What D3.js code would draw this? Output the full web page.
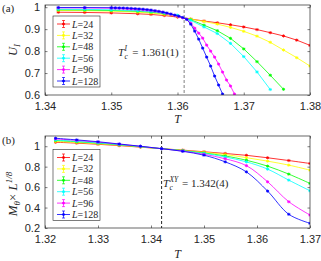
<!DOCTYPE html>
<html>
<head>
<meta charset="utf-8">
<script src="https://cdn.jsdelivr.net/npm/d3@7"></script>
<style>
  body { margin: 0; background: #fff; }
  svg { display: block; font-family: "Liberation Serif", "Times New Roman", serif; }
  .tick text { font-size: 11px; fill: #262626; }
  .tick line { stroke: #262626; stroke-width: 0.6; }
</style>
</head>
<body>
<div id="chart"></div>
<script>
const sizes = ["24", "32", "48", "56", "96", "128"];
const colors = ["#ff0000", "#ffff00", "#00ff00", "#00ffff", "#ff00ff", "#0000ff"];

// panel (a): Binder cumulant U_I
const tSmall = [1.342, 1.346, 1.35, 1.354, 1.356, 1.358, 1.36, 1.362, 1.364, 1.366, 1.368, 1.37, 1.372, 1.374, 1.376, 1.378, 1.38];
const tDense = [1.342, 1.346, 1.35, 1.3506, 1.3512, 1.3518, 1.3524, 1.353, 1.3536, 1.3542, 1.3548, 1.3554, 1.356,
  1.3566, 1.3572, 1.3578, 1.3584, 1.359, 1.3596, 1.3602, 1.3608, 1.3614, 1.362, 1.3626, 1.3632, 1.3638, 1.3644,
  1.365, 1.3656, 1.3662, 1.3668, 1.3674, 1.368, 1.3686];
const u24 = [0.977, 0.976, 0.974, 0.97, 0.967, 0.962, 0.955, 0.946, 0.937, 0.929, 0.92, 0.91, 0.898, 0.884, 0.869, 0.85, 0.826];
const u32 = [0.985, 0.984, 0.982, 0.977, 0.973, 0.967, 0.958, 0.946, 0.935, 0.923, 0.908, 0.89, 0.868, 0.84, 0.805, 0.77, 0.732];
const u48 = [0.988, 0.987, 0.985, 0.981, 0.977, 0.971, 0.961, 0.943, 0.918, 0.893, 0.858, 0.81, 0.752, 0.69, 0.626];
const u56 = [0.991, 0.99, 0.988, 0.984, 0.98, 0.974, 0.963, 0.94, 0.91, 0.88, 0.835, 0.775, 0.705, 0.625];
const u96 = [0.997, 0.9965, 0.9955, 0.995, 0.9945, 0.994, 0.993, 0.992, 0.991, 0.99, 0.9885, 0.987, 0.985,
  0.9825, 0.98, 0.977, 0.9715, 0.967, 0.962, 0.957, 0.952, 0.946, 0.9273, 0.9045, 0.8818, 0.8591, 0.8273,
  0.8, 0.7727, 0.7409, 0.7045, 0.6682, 0.6409, 0.6045];
const u128 = [0.9986, 0.9984, 0.9977, 0.9973, 0.9968, 0.9964, 0.9955, 0.9945, 0.9936, 0.9923, 0.9909, 0.9891, 0.9868,
  0.9841, 0.9809, 0.9773, 0.9735, 0.969, 0.964, 0.959, 0.953, 0.944, 0.9227, 0.8909, 0.8545, 0.8136, 0.7727,
  0.7318, 0.6864, 0.6455, 0.6045];

// panel (b): M_theta * L^(1/8)
const tB = [1.322, 1.326, 1.33, 1.334, 1.338, 1.342, 1.346, 1.35, 1.354, 1.358, 1.362, 1.366, 1.37];
const m24 = [1.039, 1.030, 1.019, 1.006, 0.991, 0.976, 0.962, 0.946, 0.929, 0.911, 0.887, 0.86, 0.831];
const m32 = [1.046, 1.036, 1.024, 1.010, 0.993, 0.976, 0.959, 0.941, 0.919, 0.888, 0.854, 0.815, 0.766];
const m48 = [1.056, 1.044, 1.030, 1.014, 0.996, 0.976, 0.957, 0.934, 0.905, 0.863, 0.805, 0.727, 0.636];
const m56 = [1.061, 1.048, 1.033, 1.016, 0.997, 0.976, 0.955, 0.930, 0.895, 0.847, 0.776, 0.668, 0.564];
const m96 = [1.072, 1.057, 1.040, 1.020, 0.999, 0.976, 0.952, 0.921, 0.877, 0.810, 0.652, 0.457, 0.327];
const m128 = [1.078, 1.062, 1.044, 1.022, 1.000, 0.976, 0.950, 0.912, 0.847, 0.749, 0.561, 0.334, 0.246];

const xTicksA = [1.34, 1.35, 1.36, 1.37, 1.38];
const yTicksA = [0.6, 0.7, 0.8, 0.9, 1];
const xTicksB = [1.32, 1.33, 1.34, 1.35, 1.36, 1.37];
const yTicksB = [0.2, 0.4, 0.6, 0.8, 1];
const tcA = 1.361;
const tcB = 1.342;

const width = 321, height = 261;

const svg = d3.select("#chart").append("svg")
  .attr("width", width)
  .attr("height", height)
  .attr("viewBox", [0, 0, width, height]);

svg.append("rect").attr("width", width).attr("height", height).attr("fill", "#fff");

//build one panel
function panel(cfg) {
  const x = d3.scaleLinear().domain(cfg.xDomain).range([cfg.left, cfg.right]);
  const y = d3.scaleLinear().domain(cfg.yDomain).range([cfg.bottom, cfg.top]);
  const g = svg.append("g");

  const clipId = "clip-" + cfg.id;
  svg.append("clipPath").attr("id", clipId)
    .append("rect")
    .attr("x", cfg.left).attr("y", cfg.top)
    .attr("width", cfg.right - cfg.left).attr("height", cfg.bottom - cfg.top);

  //axes with inward ticks on all four sides
  const fmt = (d) => String(d);
  g.append("g").attr("transform", `translate(0,${cfg.bottom})`)
    .call(d3.axisBottom(x).tickValues(cfg.xTicks).tickFormat(fmt).tickSizeInner(-2.5).tickSizeOuter(0).tickPadding(7));
  g.append("g").attr("transform", `translate(0,${cfg.top})`)
    .call(d3.axisTop(x).tickValues(cfg.xTicks).tickFormat("").tickSizeInner(-2.5).tickSizeOuter(0));
  g.append("g").attr("transform", `translate(${cfg.left},0)`)
    .call(d3.axisLeft(y).tickValues(cfg.yTicks).tickFormat(fmt).tickSizeInner(-2.5).tickSizeOuter(0).tickPadding(5));
  g.append("g").attr("transform", `translate(${cfg.right},0)`)
    .call(d3.axisRight(y).tickValues(cfg.yTicks).tickFormat("").tickSizeInner(-2.5).tickSizeOuter(0));
  g.selectAll(".domain").remove();
  g.selectAll(".tick text").attr("font-family", null);

  //dashed critical temperature line
  g.append("line")
    .attr("x1", x(cfg.tc)).attr("x2", x(cfg.tc))
    .attr("y1", cfg.top).attr("y2", cfg.bottom)
    .attr("stroke", cfg.dashColor).attr("stroke-width", 1)
    .attr("stroke-dasharray", "3,2");

  //curves
  const plot = g.append("g").attr("clip-path", `url(#${clipId})`);
  const line = d3.line()
    .x((d) => x(d[0]))
    .y((d) => y(d[1]))
    .curve(cfg.curve);
  cfg.series.forEach((s, i) => {
    const pts = s.values.map((v, j) => [s.t[j], v]);
    plot.append("path")
      .attr("d", line(pts))
      .attr("fill", "none")
      .attr("stroke", colors[i])
      .attr("stroke-width", 0.8);
    plot.selectAll(null)
      .data(pts)
      .join("path")
      .attr("transform", (d) => `translate(${x(d[0])},${y(d[1])})`)
      .attr("d", star(1.6))
      .attr("fill", "none")
      .attr("stroke", colors[i])
      .attr("stroke-width", 0.8);
  });

  //frame
  g.append("rect")
    .attr("x", cfg.left).attr("y", cfg.top)
    .attr("width", cfg.right - cfg.left).attr("height", cfg.bottom - cfg.top)
    .attr("fill", "none").attr("stroke", "#262626").attr("stroke-width", 0.7);

  //legend
  const lg = g.append("g").attr("transform", `translate(${cfg.legend.x},${cfg.legend.y})`);
  lg.append("rect")
    .attr("width", 47).attr("height", 71)
    .attr("fill", "#fff").attr("stroke", "#262626").attr("stroke-width", 0.6);
  const rows = lg.selectAll("g")
    .data(sizes)
    .join("g")
    .attr("transform", (_d, i) => `translate(0,${8 + i * 11.4})`);
  rows.append("line")
    .attr("x1", 4).attr("x2", 17)
    .attr("stroke", (_d, i) => colors[i]).attr("stroke-width", 0.8);
  rows.append("path")
    .attr("d", "M10.5,-3.5V3.5M9,-3.5H12M9,3.5H12")
    .attr("fill", "none")
    .attr("stroke", (_d, i) => colors[i]).attr("stroke-width", 0.7);
  rows.append("path")
    .attr("transform", "translate(10.5,0)")
    .attr("d", star(1.6))
    .attr("fill", "none")
    .attr("stroke", (_d, i) => colors[i]).attr("stroke-width", 0.8);
  const lt = rows.append("text")
    .attr("x", 19).attr("y", 3.5)
    .attr("font-size", 10)
    .attr("fill", "#262626");
  lt.append("tspan").attr("font-style", "italic").text("L");
  lt.append("tspan").text((d) => "=" + d);

  //T axis label
  g.append("text")
    .attr("x", (cfg.left + cfg.right) / 2)
    .attr("y", cfg.bottom + cfg.tLabelOffset)
    .attr("text-anchor", "middle")
    .attr("font-size", 12)
    .attr("font-style", "italic")
    .attr("fill", "#262626")
    .text("T");

  return { x, y, g };
}

function star(r) {
  const a = r * 0.87, b = r * 0.5;
  return `M0,${-r}V${r}M${-a},${-b}L${a},${b}M${-a},${b}L${a},${-b}M${-r},0H${r}`;
}

//T_c label with stacked sub/superscript
function tcLabel(x0, y0, sup, rest) {
  const g = svg.append("g").attr("fill", "#262626");
  const t = g.append("text").attr("x", x0).attr("y", y0)
    .attr("font-size", 11).attr("font-style", "italic").text("T");
  const xs = x0 + t.node().getComputedTextLength() + 0.3;
  const s = g.append("text").attr("x", xs).attr("y", y0 - 5)
    .attr("font-size", 7.5).attr("font-style", "italic").text(sup);
  g.append("text").attr("x", xs).attr("y", y0 + 3)
    .attr("font-size", 7.5).attr("font-style", "italic").text("c");
  const xr = xs + Math.max(s.node().getComputedTextLength(), 4) + 1;
  g.append("text").attr("x", xr).attr("y", y0)
    .attr("font-size", 11).attr("xml:space", "preserve").text(rest);
}

panel({
  id: "a",
  left: 45, right: 310, top: 5, bottom: 95,
  xDomain: [1.34, 1.38], yDomain: [0.6, 1.01],
  xTicks: xTicksA, yTicks: yTicksA,
  tc: tcA, dashColor: "#808080",
  curve: d3.curveLinear,
  tLabelOffset: 28,
  legend: { x: 53, y: 16 },
  series: [
    { t: tSmall, values: u24 },
    { t: tSmall, values: u32 },
    { t: tSmall, values: u48 },
    { t: tSmall, values: u56 },
    { t: tDense, values: u96 },
    { t: tDense, values: u128 },
  ],
});

panel({
  id: "b",
  left: 45, right: 310, top: 136, bottom: 228,
  xDomain: [1.32, 1.37], yDomain: [0.2, 1.1],
  xTicks: xTicksB, yTicks: yTicksB,
  tc: tcB, dashColor: "#262626",
  curve: d3.curveCatmullRom,
  tLabelOffset: 30,
  legend: { x: 53, y: 149.5 },
  series: [
    { t: tB, values: m24 },
    { t: tB, values: m32 },
    { t: tB, values: m48 },
    { t: tB, values: m56 },
    { t: tB, values: m96 },
    { t: tB, values: m128 },
  ],
});

//panel tags
svg.append("text").attr("x", 2).attr("y", 12).attr("font-size", 11).attr("fill", "#262626").text("(a)");
svg.append("text").attr("x", 2).attr("y", 144).attr("font-size", 11).attr("fill", "#262626").text("(b)");

//y labels
const ya = svg.append("text")
  .attr("transform", "translate(17,50) rotate(-90)")
  .attr("text-anchor", "middle")
  .attr("font-size", 12.5)
  .attr("font-style", "italic")
  .attr("fill", "#262626");
ya.append("tspan").text("U");
ya.append("tspan").attr("font-size", 9).attr("dy", 3).text("I");

const yb = svg.append("text")
  .attr("transform", "translate(17,194) rotate(-90)")
  .attr("text-anchor", "middle")
  .attr("font-size", 13)
  .attr("fill", "#262626");
yb.append("tspan").attr("font-style", "italic").text("M");
yb.append("tspan").attr("font-style", "italic").attr("font-size", 9).attr("dy", 3).text("θ");
yb.append("tspan").attr("dy", -3).text("× ");
yb.append("tspan").attr("font-style", "italic").text("L");
yb.append("tspan").attr("font-style", "italic").attr("font-size", 9).attr("dy", -5).text("1/8");

//critical temperature annotations
tcLabel(118, 56, "I", " = 1.361(1)");
tcLabel(163, 187, "XY", " = 1.342(4)");
</script>
</body>
</html>
